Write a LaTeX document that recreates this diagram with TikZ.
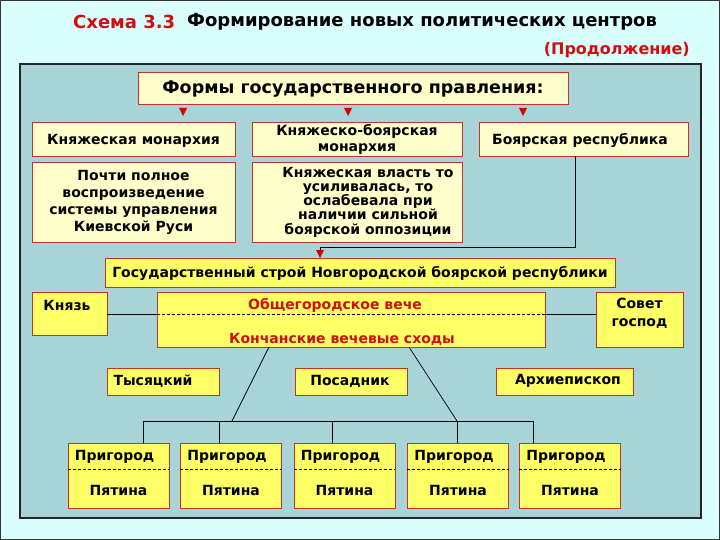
\documentclass[tikz,border=0pt]{standalone}
\usepackage{fontspec}
\setmainfont{DejaVu Sans}
\usetikzlibrary{arrows.meta}
\definecolor{bgc}{HTML}{D9FFFF}
\definecolor{panel}{HTML}{A8D3D7}
\definecolor{lyel}{HTML}{FFFFCC}
\definecolor{yel}{HTML}{FFFF66}
\definecolor{bred}{HTML}{C8302A}
\definecolor{tred}{HTML}{D01010}
\begin{document}
\begin{tikzpicture}[x=1pt,y=-1pt,
  font=\bfseries\fontsize{14}{16}\selectfont,
  lbox/.style={draw=bred, fill=lyel, line width=0.9pt, inner sep=0pt, align=center},
  ybox/.style={draw=bred, fill=yel, line width=0.9pt, inner sep=0pt, align=center},
  txt/.style={inner sep=0pt, align=center},
  conn/.style={draw=black, line width=0.7pt},
  dline/.style={draw=black, line width=0.6pt, dash pattern=on 3pt off 2pt},
  tip/.style={fill=red!85!black}
]
\useasboundingbox (0,0) rectangle (720,540);
\fill[bgc] (0,0) rectangle (720,540);
\draw[line width=1pt, black!80] (0.5,0.5) rectangle (719.5,539.5);

% title
\node[txt, anchor=west, text=tred, font=\bfseries\fontsize{18}{20}\selectfont] (t1) at (73,22) {Схема 3.3};
\node[txt, anchor=west, font=\bfseries\fontsize{18}{20}\selectfont] (t2) at (187,22) {Формирование новых политических центров};
\node[txt, anchor=east, text=tred, font=\bfseries\fontsize{16}{18}\selectfont] (t3) at (690,50) {(Продолжение)};

% panel
\draw[fill=panel, draw=black!85, line width=1.2pt] (20,64) rectangle (701,518);

% header
\node[lbox, minimum width=430pt, minimum height=32pt] (head) at (353,88) {};
\node[txt, font=\bfseries\fontsize{17.5}{19}\selectfont] (headt) at (353,89.5) {Формы государственного правления:};
\foreach \xx in {183,348,523}
  \fill[tip] (\xx-4,108) -- (\xx+4,108) -- (\xx,116) -- cycle;

% row 1
\node[lbox, minimum width=203pt, minimum height=34pt] (km) at (133.5,139) {};
\node[txt] (kmt) at (133.5,140.5) {Княжеская монархия};
\node[lbox, minimum width=210pt, minimum height=34pt, font=\bfseries\fontsize{14}{15.5}\selectfont] (kbm) at (357,139.5) {Княжеско-боярская\\монархия};
\node[lbox, minimum width=209pt, minimum height=34pt] (br) at (583.5,139) {};
\node[txt] (brt) at (580,140.5) {Боярская республика};

% row 2
\node[lbox, minimum width=203pt, minimum height=80pt, font=\bfseries\fontsize{14}{17}\selectfont] (km2) at (133.5,202) {Почти полное\\воспроизведение\\системы управления\\Киевской Руси};
\node[lbox, minimum width=210pt, minimum height=80pt] (kbm2) at (357,202) {};
\node[txt, font=\bfseries\fontsize{14}{14.3}\selectfont] (kbm2t) at (368,202) {Княжеская власть то\\усиливалась, то\\ослабевала при\\наличии сильной\\боярской оппозиции};

% state
\node[ybox, minimum width=510pt, minimum height=29pt] (state) at (360,272.5) {};
\node[txt] (statet) at (360,273.5) {Государственный строй Новгородской боярской республики};
\coordinate (bend1) at (575,247);
\coordinate (bend2) at (320,247);
\draw[conn] (br.south -| bend1) -- (bend1) -- (bend2);
\draw[conn] (bend2) -- ++(0,4);
\fill[tip] (316,250) -- (324,250) -- (320,258) -- cycle;

% middle row
\node[ybox, minimum width=75pt, minimum height=43pt] (knyaz) at (69.5,313.5) {};
\node[txt] (knyazt) at (67,305) {Князь};
\node[ybox, minimum width=388pt, minimum height=55pt] (veche) at (351,319.5) {};
\node[txt, text=tred] (vechet) at (335,305) {Общегородское вече};
\node[txt, text=tred] (konch) at (342,339.5) {Кончанские вечевые сходы};
\node[ybox, minimum width=87pt, minimum height=55pt] (sovet) at (639.5,319.5) {};
\node[txt, font=\bfseries\fontsize{14}{18}\selectfont] (sovett) at (639.5,313.5) {Совет\\господ};
\coordinate (vl) at (157,314);
\coordinate (vr) at (545,314);
\draw[conn] (knyaz.east |- vl) -- (vl);
\draw[dline] (vl) -- (vr);
\draw[conn] (vr) -- (sovet.west |- vr);

% officials
\node[ybox, minimum width=112pt, minimum height=27pt] (tys) at (163,381.5) {};
\node[txt] (tyst) at (153,381) {Тысяцкий};
\node[ybox, minimum width=112pt, minimum height=27pt] (pos) at (351,381.5) {};
\node[txt] (post) at (350,381) {Посадник};
\node[ybox, minimum width=137pt, minimum height=27pt] (arch) at (564.5,381.5) {};
\node[txt] (archt) at (568,381) {Архиепископ};

% bottom boxes
\foreach \i/\cx in {1/118.5,2/231,3/344.5,4/458,5/570}{
  \node[ybox, minimum width=101pt, minimum height=65pt] (p\i) at (\cx,475.5) {};
  \draw[dline] (p\i.west |- 0,469) -- (p\i.east |- 0,469);
  \node[txt] (pr\i) at (\cx-4,456.5) {Пригород};
  \node[txt] (pt\i) at (\cx,490.5) {Пятина};
}

% connectors to bottom
\coordinate (busL) at (143,421);
\coordinate (busR) at (533,421);
\coordinate (j1) at (232,421);
\coordinate (j2) at (457,421);
\draw[conn] (269,347) -- (j1);
\draw[conn] (409,347) -- (j2);
\draw[conn] (busL) -- (busR);
\draw[conn] (busL) -- (busL |- p1.north);
\draw[conn] (219,421) -- (219,443);
\draw[conn] (332,421) -- (332,443);
\draw[conn] (j2) -- (j2 |- p4.north);
\draw[conn] (busR) -- (busR |- p5.north);
\end{tikzpicture}
\end{document}
